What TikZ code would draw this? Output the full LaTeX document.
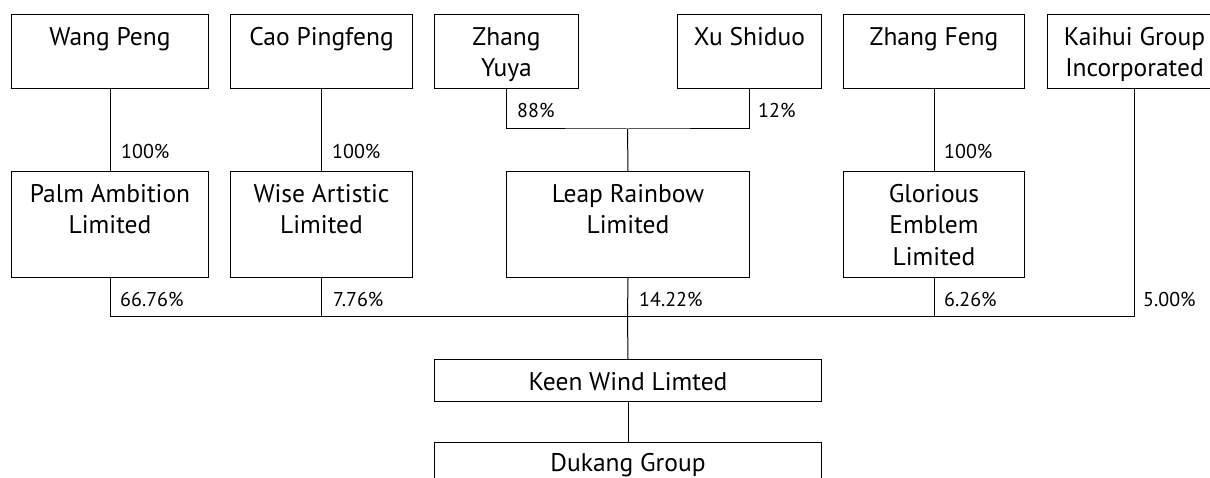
\documentclass[tikz,border=0pt]{standalone}
\usepackage{fontspec}
\setmainfont{PT Sans}
\newcommand\bxt[4][31]{\parbox[c][#3pt][t]{#2pt}{\centering\rule{0pt}{#1pt}#4}}
\tikzset{
  box/.style={draw=black, line width=1pt, inner sep=0pt, anchor=north west,
    font=\fontsize{25.5}{31.5}\selectfont},
  pct/.style={inner sep=0pt, anchor=base west, font=\fontsize{20}{24}\selectfont},
  link/.style={draw=black, line width=1pt},
}
\begin{document}
\begin{tikzpicture}[x=1pt, y=-1pt]
\clip (0,0) rectangle (1210,478);
% top row
\node[box] (wang)   at (11,14)   {\bxt{197}{74}{Wang Peng}};
\node[box] (cao)    at (230,14)  {\bxt{182}{74}{Cao Pingfeng}};
\node[box] (zyuya)  at (434,14)  {\bxt{144}{74}{Zhang\\Yuya}};
\node[box] (xu)     at (677,14)  {\bxt{144}{74}{Xu Shiduo}};
\node[box] (zfeng)  at (843,14)  {\bxt{181}{74}{Zhang Feng}};
\node[box] (kaihui) at (1047,14) {\bxt{174}{74}{Kaihui Group\\Incorporated}};
% middle row
\node[box] (palm)  at (11,171)  {\bxt{197}{106}{Palm Ambition\\Limited}};
\node[box] (wise)  at (230,171) {\bxt{182}{106}{Wise Artistic\\Limited}};
\node[box] (leap)  at (506,171) {\bxt{243}{106}{Leap Rainbow\\Limited}};
\node[box] (glor)  at (843,171) {\bxt{181}{106}{Glorious\\Emblem\\Limited}};
% bottom
\node[box] (keen)   at (434,359) {\bxt{387}{42}{Keen Wind Limted}};
\node[box] (dukang) at (434,442) {\bxt[28.5]{387}{74}{Dukang Group}};
% junctions
\coordinate (j1) at (627.5,129);
\coordinate (j2) at (627.5,317);
% connectors
\draw[link] (wang.south) -- (palm.north);
\draw[link] (cao.south) -- (wise.north);
\draw[link] (zfeng.south) -- (glor.north);
\draw[link] (zyuya.south) |- (j1) -| (xu.south);
\draw[link] (j1) -- (leap.north);
\draw[link] (palm.south) |- (j2);
\draw[link] (wise.south) |- (j2);
\draw[link] (glor.south) |- (j2);
\draw[link] (kaihui.south) |- (j2);
\draw[link] (leap.south) -- (j2) -- (keen.north);
\draw[link] (keen.south) -- (dukang.north);
% labels
\node[pct] (p1) at (121,159) {100\%};
\node[pct] (p2) at (332,159) {100\%};
\node[pct] (p3) at (944,159) {100\%};
\node[pct] (p4) at (517,118) {88\%};
\node[pct] (p5) at (758,118) {12\%};
\node[pct] (p6) at (120,307) {66.76\%};
\node[pct] (p7) at (333,307) {7.76\%};
\node[pct] (p8) at (639,307) {14.22\%};
\node[pct] (p9) at (944,307) {6.26\%};
\node[pct] (p10) at (1143,307) {5.00\%};
\end{tikzpicture}
\end{document}
